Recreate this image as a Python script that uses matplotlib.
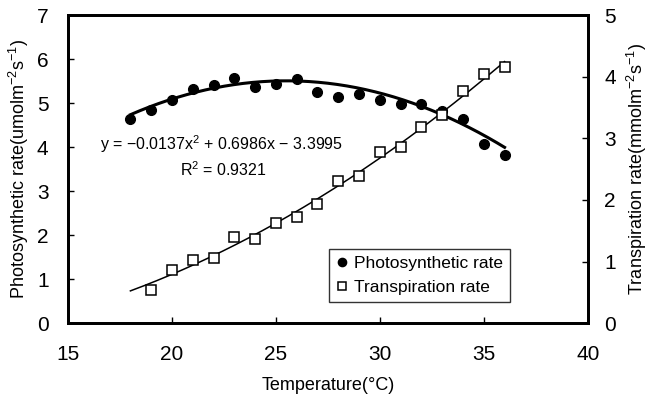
import numpy as np
from matplotlib import pyplot as plt

plt.rcParams['font.family'] = ['Liberation Sans', 'DejaVu Sans']
plt.rcParams['mathtext.fontset'] = 'custom'
plt.rcParams['mathtext.rm'] = 'Liberation Sans'

# photosynthetic rate (left axis)
photo_temp = [18, 19, 20, 21, 22, 23, 24, 25, 26, 27, 28, 29, 30, 31, 32, 33, 34, 35, 36]
photo_rate = [4.64, 4.84, 5.08, 5.31, 5.41, 5.58, 5.37, 5.43, 5.54, 5.25, 5.14,
              5.20, 5.08, 4.97, 4.97, 4.83, 4.63, 4.07, 3.82]
# quadratic trend shown on the chart
photo_coef = [-0.0137, 0.6986, -3.3995]

# transpiration rate (right axis)
trans_temp = [19, 20, 21, 22, 23, 24, 25, 26, 27, 28, 29, 30, 31, 32, 33, 34, 35, 36]
trans_rate = [0.54, 0.87, 1.02, 1.06, 1.40, 1.37, 1.63, 1.73, 1.93, 2.30, 2.39,
              2.78, 2.86, 3.18, 3.38, 3.77, 4.04, 4.15]

fig = plt.figure(figsize=(6.48, 4.08), dpi=100)
ax = fig.add_axes([0.105, 0.208, 0.802, 0.755])
ax2 = ax.twinx()

xs = np.linspace(18, 36, 200)
ax.plot(xs, np.polyval(photo_coef, xs), color='black', lw=2.2, zorder=2)
p1, = ax.plot(photo_temp, photo_rate, 'o', color='black', ms=7,
              label='Photosynthetic rate', zorder=3)

trans_fit = np.polyfit(trans_temp, trans_rate, 2)
ax2.plot(xs, np.polyval(trans_fit, xs), color='black', lw=1.1, zorder=2)
p2, = ax2.plot(trans_temp, trans_rate, 's', mfc='white', mec='black', mew=1.1,
               ms=7, label='Transpiration rate', zorder=3)

ax.set_xlim(15, 40)
ax.set_ylim(0, 7)
ax2.set_ylim(0, 5)
ax.set_xticks([15, 20, 25, 30, 35, 40])
ax.set_yticks(range(8))
ax2.set_yticks(range(6))

for a in (ax, ax2):
    a.tick_params(direction='in', labelsize=15, length=4, width=1, pad=14)
    for s in a.spines.values():
        s.set_linewidth(2)
ax.tick_params(axis='x', pad=16)
ax2.tick_params(axis='y', pad=12)

ax.set_xlabel('Temperature(°C)', fontsize=13, labelpad=9)
ax.set_ylabel('Photosynthetic rate(umolm$^{-2}$s$^{-1}$)', fontsize=13, labelpad=4)
ax2.set_ylabel('Transpiration rate(mmolm$^{-2}$s$^{-1}$)', fontsize=13, labelpad=6)

ax.text(22.4, 3.93, 'y = \u22120.0137x$^{2}$ + 0.6986x \u2212 3.3995', fontsize=11.5,
        ha='center')
ax.text(22.45, 3.34, 'R$^{2}$ = 0.9321', fontsize=11.5, ha='center')

leg = ax.legend(handles=[p1, p2], loc='lower left', bbox_to_anchor=(0.503, 0.07),
                fontsize=12.5, frameon=True, fancybox=False, edgecolor='black',
                handlelength=0.6, handletextpad=0.4, borderpad=0.4,
                labelspacing=0.5, borderaxespad=0, markerscale=0.85)
leg.get_frame().set_linewidth(1)

plt.savefig('out.png')
plt.close()
